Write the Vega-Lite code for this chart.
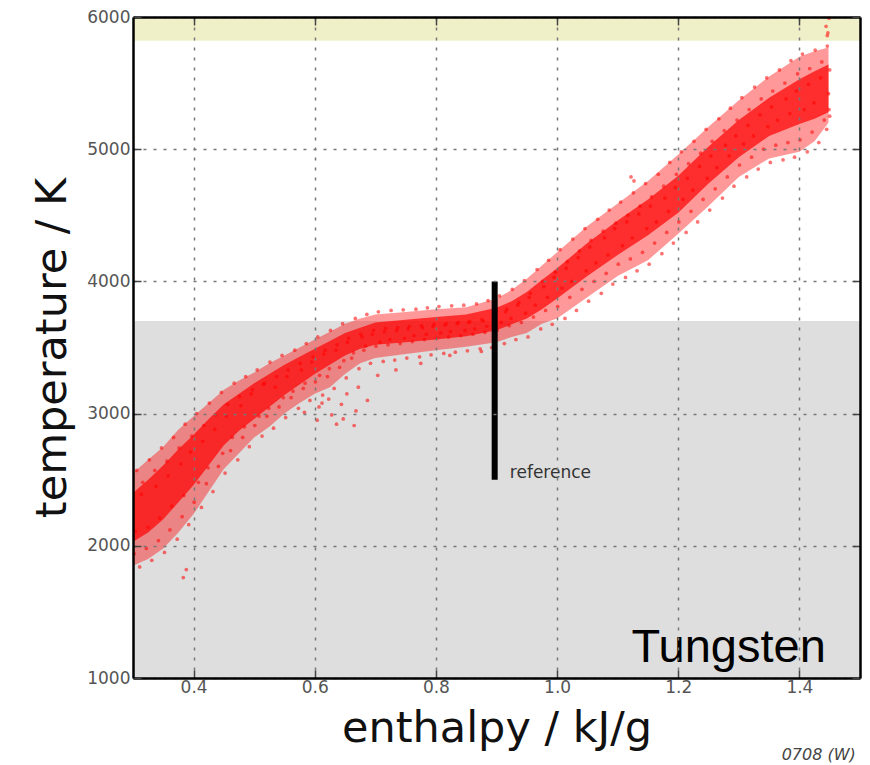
{
  "$schema": "https://vega.github.io/schema/vega-lite/v6.json",
  "width": 727,
  "height": 661,
  "autosize": "none",
  "padding": {"left": 133, "top": 17, "right": 10, "bottom": 87},
  "background": "white",
  "config": {"font": "DejaVu Sans", "view": {"stroke": null}},
  "datasets": {
    "zones": [{"t0": 1000, "t1": 3700, "zone": "solid"}, {"t0": 5820, "t1": 6000, "zone": "gas"}],
    "band": [
      {"h": 0.300, "olo": 1850, "ohi": 2550, "clo": 2030, "chi": 2400},
      {"h": 0.325, "olo": 1900, "ohi": 2650, "clo": 2100, "chi": 2500},
      {"h": 0.350, "olo": 1980, "ohi": 2750, "clo": 2200, "chi": 2610},
      {"h": 0.375, "olo": 2100, "ohi": 2880, "clo": 2330, "chi": 2730},
      {"h": 0.400, "olo": 2240, "ohi": 2980, "clo": 2460, "chi": 2840},
      {"h": 0.425, "olo": 2410, "ohi": 3080, "clo": 2610, "chi": 2960},
      {"h": 0.450, "olo": 2580, "ohi": 3180, "clo": 2760, "chi": 3070},
      {"h": 0.475, "olo": 2700, "ohi": 3250, "clo": 2870, "chi": 3150},
      {"h": 0.500, "olo": 2820, "ohi": 3310, "clo": 2960, "chi": 3230},
      {"h": 0.525, "olo": 2900, "ohi": 3380, "clo": 3050, "chi": 3300},
      {"h": 0.550, "olo": 3000, "ohi": 3440, "clo": 3140, "chi": 3370},
      {"h": 0.575, "olo": 3080, "ohi": 3500, "clo": 3220, "chi": 3430},
      {"h": 0.600, "olo": 3150, "ohi": 3560, "clo": 3300, "chi": 3490},
      {"h": 0.625, "olo": 3200, "ohi": 3620, "clo": 3370, "chi": 3550},
      {"h": 0.650, "olo": 3300, "ohi": 3680, "clo": 3440, "chi": 3610},
      {"h": 0.675, "olo": 3380, "ohi": 3720, "clo": 3490, "chi": 3650},
      {"h": 0.700, "olo": 3420, "ohi": 3750, "clo": 3520, "chi": 3690},
      {"h": 0.750, "olo": 3450, "ohi": 3768, "clo": 3540, "chi": 3710},
      {"h": 0.800, "olo": 3480, "ohi": 3790, "clo": 3560, "chi": 3730},
      {"h": 0.850, "olo": 3505, "ohi": 3805, "clo": 3585, "chi": 3750},
      {"h": 0.900, "olo": 3540, "ohi": 3870, "clo": 3630, "chi": 3800},
      {"h": 0.925, "olo": 3580, "ohi": 3935, "clo": 3675, "chi": 3850},
      {"h": 0.950, "olo": 3610, "ohi": 4020, "clo": 3720, "chi": 3920},
      {"h": 0.975, "olo": 3680, "ohi": 4120, "clo": 3790, "chi": 4010},
      {"h": 1.000, "olo": 3720, "ohi": 4220, "clo": 3870, "chi": 4100},
      {"h": 1.050, "olo": 3880, "ohi": 4420, "clo": 4040, "chi": 4290},
      {"h": 1.100, "olo": 4040, "ohi": 4590, "clo": 4200, "chi": 4460},
      {"h": 1.150, "olo": 4160, "ohi": 4760, "clo": 4350, "chi": 4620},
      {"h": 1.200, "olo": 4360, "ohi": 4960, "clo": 4520, "chi": 4800},
      {"h": 1.250, "olo": 4570, "ohi": 5170, "clo": 4740, "chi": 5020},
      {"h": 1.300, "olo": 4790, "ohi": 5370, "clo": 4940, "chi": 5220},
      {"h": 1.350, "olo": 4930, "ohi": 5550, "clo": 5100, "chi": 5390},
      {"h": 1.400, "olo": 4980, "ohi": 5700, "clo": 5190, "chi": 5530},
      {"h": 1.425, "olo": 5060, "ohi": 5740, "clo": 5230, "chi": 5590},
      {"h": 1.448, "olo": 5200, "ohi": 5770, "clo": 5280, "chi": 5640}
    ],
    "pts": [
      {"h":0.302,"t":1940},{"h":0.306,"t":2570},{"h":0.304,"t":2110},
      {"h":0.311,"t":1840},{"h":0.316,"t":2480},{"h":0.314,"t":2390},
      {"h":0.322,"t":1980},{"h":0.327,"t":2650},{"h":0.325,"t":2140},
      {"h":0.331,"t":1890},{"h":0.336,"t":2570},{"h":0.338,"t":2450},
      {"h":0.342,"t":2040},{"h":0.347,"t":2740},{"h":0.344,"t":2210},
      {"h":0.352,"t":1950},{"h":0.356,"t":2640},{"h":0.358,"t":2530},
      {"h":0.361,"t":2120},{"h":0.367,"t":2820},{"h":0.364,"t":2300},
      {"h":0.373,"t":2050},{"h":0.376,"t":2740},{"h":0.379,"t":2620},
      {"h":0.381,"t":2220},{"h":0.386,"t":2920},{"h":0.384,"t":2380},{"h":0.383,"t":1760},{"h":0.388,"t":1820},
      {"h":0.392,"t":2160},{"h":0.397,"t":2830},{"h":0.395,"t":2710},
      {"h":0.401,"t":2330},{"h":0.405,"t":3000},{"h":0.408,"t":2480},
      {"h":0.413,"t":2290},{"h":0.417,"t":2910},{"h":0.415,"t":2790},
      {"h":0.421,"t":2470},{"h":0.426,"t":3080},{"h":0.424,"t":2590},
      {"h":0.432,"t":2410},{"h":0.437,"t":2990},{"h":0.435,"t":2880},
      {"h":0.441,"t":2600},{"h":0.446,"t":3160},{"h":0.448,"t":2700},
      {"h":0.452,"t":2550},{"h":0.456,"t":3070},{"h":0.454,"t":2980},
      {"h":0.461,"t":2720},{"h":0.467,"t":3230},{"h":0.464,"t":2820},
      {"h":0.473,"t":2650},{"h":0.476,"t":3130},{"h":0.478,"t":3060},
      {"h":0.481,"t":2820},{"h":0.486,"t":3280},{"h":0.484,"t":2900},
      {"h":0.492,"t":2750},{"h":0.497,"t":3180},{"h":0.495,"t":3150},
      {"h":0.501,"t":2910},{"h":0.505,"t":3330},{"h":0.508,"t":2980},
      {"h":0.513,"t":2830},{"h":0.517,"t":3230},{"h":0.515,"t":3220},
      {"h":0.521,"t":2980},{"h":0.526,"t":3390},{"h":0.524,"t":3040},
      {"h":0.532,"t":2890},{"h":0.537,"t":3280},{"h":0.535,"t":3200},
      {"h":0.541,"t":3050},{"h":0.546,"t":3440},{"h":0.548,"t":3120},
      {"h":0.552,"t":2970},{"h":0.556,"t":3330},{"h":0.554,"t":3280},
      {"h":0.561,"t":3120},{"h":0.567,"t":3480},{"h":0.564,"t":3170},
      {"h":0.573,"t":3040},{"h":0.576,"t":3380},{"h":0.578,"t":3330},
      {"h":0.581,"t":3190},{"h":0.586,"t":3530},{"h":0.584,"t":3230},{"h":0.583,"t":3010},
      {"h":0.592,"t":3100},{"h":0.597,"t":3430},{"h":0.595,"t":3390},
      {"h":0.601,"t":3240},{"h":0.605,"t":3580},{"h":0.608,"t":3290},{"h":0.604,"t":2950},{"h":0.607,"t":3050},
      {"h":0.613,"t":3140},{"h":0.617,"t":3480},{"h":0.615,"t":3450},{"h":0.612,"t":3080},
      {"h":0.621,"t":3280},{"h":0.626,"t":3630},{"h":0.624,"t":3340},{"h":0.628,"t":2990},{"h":0.623,"t":3110},
      {"h":0.632,"t":3190},{"h":0.637,"t":3520},{"h":0.635,"t":3480},{"h":0.636,"t":2920},
      {"h":0.641,"t":3350},{"h":0.646,"t":3680},{"h":0.648,"t":3400},{"h":0.644,"t":3070},{"h":0.647,"t":2960},
      {"h":0.652,"t":3270},{"h":0.656,"t":3570},{"h":0.654,"t":3540},{"h":0.653,"t":3150},
      {"h":0.661,"t":3420},{"h":0.667,"t":3720},{"h":0.664,"t":3460},{"h":0.665,"t":2910},{"h":0.668,"t":3020},
      {"h":0.673,"t":3340},{"h":0.676,"t":3600},{"h":0.678,"t":3580},{"h":0.672,"t":3200},
      {"h":0.681,"t":3480},{"h":0.686,"t":3750},{"h":0.684,"t":3510},{"h":0.687,"t":3100},
      {"h":0.692,"t":3380},{"h":0.697,"t":3630},{"h":0.695,"t":3600},
      {"h":0.701,"t":3510},{"h":0.705,"t":3770},{"h":0.708,"t":3540},{"h":0.704,"t":3290},
      {"h":0.713,"t":3395},{"h":0.717,"t":3645},{"h":0.715,"t":3620},
      {"h":0.721,"t":3520},{"h":0.726,"t":3780},{"h":0.724,"t":3560},
      {"h":0.732,"t":3405},{"h":0.737,"t":3650},{"h":0.735,"t":3630},{"h":0.734,"t":3330},
      {"h":0.741,"t":3530},{"h":0.746,"t":3785},{"h":0.748,"t":3570},
      {"h":0.752,"t":3420},{"h":0.756,"t":3660},{"h":0.754,"t":3640},
      {"h":0.761,"t":3545},{"h":0.767,"t":3790},{"h":0.764,"t":3590},
      {"h":0.773,"t":3430},{"h":0.776,"t":3665},{"h":0.778,"t":3650},{"h":0.775,"t":3380},
      {"h":0.781,"t":3560},{"h":0.786,"t":3800},{"h":0.784,"t":3600},
      {"h":0.792,"t":3445},{"h":0.797,"t":3675},{"h":0.795,"t":3660},
      {"h":0.801,"t":3570},{"h":0.805,"t":3810},{"h":0.808,"t":3610},
      {"h":0.813,"t":3455},{"h":0.817,"t":3680},{"h":0.815,"t":3670},
      {"h":0.821,"t":3580},{"h":0.826,"t":3815},{"h":0.824,"t":3620},{"h":0.823,"t":3440},
      {"h":0.832,"t":3465},{"h":0.837,"t":3690},{"h":0.835,"t":3680},
      {"h":0.841,"t":3590},{"h":0.846,"t":3820},{"h":0.848,"t":3630},
      {"h":0.852,"t":3475},{"h":0.856,"t":3695},{"h":0.854,"t":3690},
      {"h":0.861,"t":3600},{"h":0.867,"t":3830},{"h":0.864,"t":3640},
      {"h":0.873,"t":3490},{"h":0.876,"t":3710},{"h":0.878,"t":3700},{"h":0.875,"t":3470},
      {"h":0.881,"t":3615},{"h":0.886,"t":3855},{"h":0.884,"t":3660},
      {"h":0.892,"t":3500},{"h":0.897,"t":3740},{"h":0.895,"t":3730},
      {"h":0.901,"t":3630},{"h":0.905,"t":3890},{"h":0.908,"t":3690},
      {"h":0.913,"t":3530},{"h":0.917,"t":3790},{"h":0.915,"t":3770},
      {"h":0.921,"t":3665},{"h":0.926,"t":3940},{"h":0.924,"t":3720},
      {"h":0.932,"t":3560},{"h":0.937,"t":3840},{"h":0.935,"t":3820},
      {"h":0.941,"t":3690},{"h":0.946,"t":4005},{"h":0.948,"t":3760},
      {"h":0.952,"t":3580},{"h":0.956,"t":3910},{"h":0.954,"t":3880},
      {"h":0.961,"t":3730},{"h":0.967,"t":4090},{"h":0.964,"t":3820},
      {"h":0.973,"t":3640},{"h":0.976,"t":4000},{"h":0.978,"t":3960},
      {"h":0.981,"t":3780},{"h":0.986,"t":4160},{"h":0.984,"t":3880},
      {"h":0.992,"t":3675},{"h":0.997,"t":4070},{"h":0.995,"t":4030},
      {"h":1.001,"t":3810},{"h":1.005,"t":4240},{"h":1.008,"t":3950},
      {"h":1.013,"t":3720},{"h":1.017,"t":4150},{"h":1.015,"t":4100},
      {"h":1.021,"t":3880},{"h":1.026,"t":4320},{"h":1.024,"t":4000},
      {"h":1.032,"t":3780},{"h":1.037,"t":4230},{"h":1.035,"t":4180},
      {"h":1.041,"t":3940},{"h":1.046,"t":4400},{"h":1.048,"t":4080},
      {"h":1.052,"t":3850},{"h":1.056,"t":4310},{"h":1.054,"t":4260},
      {"h":1.061,"t":4000},{"h":1.067,"t":4470},{"h":1.064,"t":4140},
      {"h":1.073,"t":3910},{"h":1.076,"t":4380},{"h":1.078,"t":4330},
      {"h":1.081,"t":4060},{"h":1.086,"t":4540},{"h":1.084,"t":4200},
      {"h":1.092,"t":3980},{"h":1.097,"t":4440},{"h":1.095,"t":4400},
      {"h":1.101,"t":4130},{"h":1.105,"t":4600},{"h":1.108,"t":4270},
      {"h":1.113,"t":4030},{"h":1.117,"t":4500},{"h":1.115,"t":4450},
      {"h":1.121,"t":4170},{"h":1.126,"t":4670},{"h":1.124,"t":4330},{"h":1.122,"t":4790},{"h":1.127,"t":4760},
      {"h":1.132,"t":4080},{"h":1.137,"t":4570},{"h":1.135,"t":4510},
      {"h":1.141,"t":4220},{"h":1.146,"t":4740},{"h":1.148,"t":4400},
      {"h":1.152,"t":4130},{"h":1.156,"t":4640},{"h":1.154,"t":4570},
      {"h":1.161,"t":4290},{"h":1.167,"t":4810},{"h":1.164,"t":4450},
      {"h":1.173,"t":4210},{"h":1.176,"t":4720},{"h":1.178,"t":4630},
      {"h":1.181,"t":4370},{"h":1.186,"t":4900},{"h":1.184,"t":4530},
      {"h":1.192,"t":4290},{"h":1.197,"t":4810},{"h":1.195,"t":4710},
      {"h":1.201,"t":4450},{"h":1.205,"t":4980},{"h":1.208,"t":4620},
      {"h":1.213,"t":4370},{"h":1.217,"t":4890},{"h":1.215,"t":4780},
      {"h":1.221,"t":4530},{"h":1.226,"t":5060},{"h":1.224,"t":4690},
      {"h":1.232,"t":4450},{"h":1.237,"t":4970},{"h":1.235,"t":4870},
      {"h":1.241,"t":4620},{"h":1.246,"t":5150},{"h":1.248,"t":4780},
      {"h":1.252,"t":4540},{"h":1.256,"t":5060},{"h":1.254,"t":4950},
      {"h":1.261,"t":4700},{"h":1.267,"t":5230},{"h":1.264,"t":4860},
      {"h":1.273,"t":4630},{"h":1.276,"t":5140},{"h":1.278,"t":5030},
      {"h":1.281,"t":4790},{"h":1.286,"t":5310},{"h":1.284,"t":4950},
      {"h":1.292,"t":4720},{"h":1.297,"t":5220},{"h":1.295,"t":5100},
      {"h":1.301,"t":4880},{"h":1.305,"t":5390},{"h":1.308,"t":5040},
      {"h":1.313,"t":4790},{"h":1.317,"t":5300},{"h":1.315,"t":5180},
      {"h":1.321,"t":4940},{"h":1.326,"t":5470},{"h":1.324,"t":5100},
      {"h":1.332,"t":4850},{"h":1.337,"t":5380},{"h":1.335,"t":5260},
      {"h":1.341,"t":5000},{"h":1.346,"t":5540},{"h":1.348,"t":5170},
      {"h":1.352,"t":4900},{"h":1.356,"t":5440},{"h":1.354,"t":5320},
      {"h":1.361,"t":5030},{"h":1.367,"t":5600},{"h":1.364,"t":5220},
      {"h":1.373,"t":4920},{"h":1.376,"t":5500},{"h":1.378,"t":5380},
      {"h":1.381,"t":5050},{"h":1.386,"t":5670},{"h":1.384,"t":5270},
      {"h":1.392,"t":4940},{"h":1.397,"t":5570},{"h":1.395,"t":5440},
      {"h":1.401,"t":5070},{"h":1.405,"t":5720},{"h":1.408,"t":5300},
      {"h":1.413,"t":4980},{"h":1.417,"t":5610},{"h":1.415,"t":5490},
      {"h":1.421,"t":5130},{"h":1.426,"t":5750},{"h":1.424,"t":5350},
      {"h":1.432,"t":5050},{"h":1.437,"t":5660},{"h":1.435,"t":5540},
      {"h":1.441,"t":5220},{"h":1.446,"t":5780},{"h":1.448,"t":5420},
      {"h":1.445,"t":5150},{"h":1.450,"t":5250},
      {"h":1.449,"t":5300},{"h":1.450,"t":5600},{"h":1.447,"t":5880},{"h":1.444,"t":5930},{"h":1.449,"t":5990},{"h":1.446,"t":5860}
    ]
  },
  "layer": [
    {
      "data": {"name": "zones"},
      "mark": {"type": "rect"},
      "encoding": {
        "y": {"field": "t0", "type": "quantitative", "axis": null},
        "y2": {"field": "t1"},
        "color": {"field": "zone", "type": "nominal", "scale": {"domain": ["solid", "gas"], "range": ["#dedede", "#f0f0c8"]}, "legend": null}
      }
    },
    {
      "data": {"name": "band"},
      "mark": {"type": "area", "color": "#ff0000", "opacity": 0.4},
      "encoding": {
        "x": {"field": "h", "type": "quantitative", "scale": {"domain": [0.3, 1.5], "nice": false, "zero": false},
          "axis": {"orient": "bottom", "values": [0.4, 0.6, 0.8, 1.0, 1.2, 1.4], "format": ".1f", "title": "enthalpy / kJ/g",
            "titleFontSize": 43, "titleFontWeight": "normal", "titleColor": "#111", "titlePadding": 12, "titleFont": "DejaVu Sans",
            "labelFontSize": 17, "labelColor": "#555", "labelPadding": 9, "labelFlush": false, "labelOverlap": false,
            "tickSize": -8, "tickColor": "#444", "tickWidth": 1.5,
            "domainColor": "#000", "domainWidth": 2.5,
            "grid": true, "gridColor": "#777", "gridDash": [3, 7], "gridWidth": 1.5, "zindex": 1}},
        "y": {"field": "olo", "type": "quantitative", "scale": {"domain": [1000, 6000], "nice": false, "zero": false},
          "axis": {"orient": "left", "values": [1000, 2000, 3000, 4000, 5000, 6000], "format": "d", "title": "temperature / K",
            "titleFontSize": 43, "titleFontWeight": "normal", "titleColor": "#111", "titlePadding": 12, "titleFont": "DejaVu Sans",
            "labelFontSize": 17, "labelColor": "#555", "labelPadding": 11, "labelFlush": false, "labelOverlap": false,
            "tickSize": -8, "tickColor": "#444", "tickWidth": 1.5,
            "domainColor": "#000", "domainWidth": 2.5,
            "grid": true, "gridColor": "#777", "gridDash": [3, 7], "gridWidth": 1.5, "zindex": 1}},
        "y2": {"field": "ohi"}
      }
    },
    {
      "data": {"name": "band"},
      "mark": {"type": "area", "color": "#ff0000", "opacity": 0.7},
      "encoding": {
        "x": {"field": "h", "type": "quantitative", "axis": null},
        "y": {"field": "clo", "type": "quantitative", "axis": null},
        "y2": {"field": "chi"}
      }
    },
    {
      "data": {"name": "pts"},
      "mark": {"type": "circle", "color": "#ff0000", "size": 14, "opacity": 0.55},
      "encoding": {
        "x": {"field": "h", "type": "quantitative",
          "axis": {"orient": "top", "values": [0.4, 0.6, 0.8, 1.0, 1.2, 1.4], "labels": false, "title": null, "grid": false,
            "tickSize": -8, "tickColor": "#444", "tickWidth": 1.5, "domainColor": "#000", "domainWidth": 2.5, "zindex": 1}},
        "y": {"field": "t", "type": "quantitative",
          "axis": {"orient": "right", "values": [1000, 2000, 3000, 4000, 5000, 6000], "labels": false, "title": null, "grid": false,
            "tickSize": -8, "tickColor": "#444", "tickWidth": 1.5, "domainColor": "#000", "domainWidth": 2.5, "zindex": 1}}
      }
    },
    {
      "data": {"values": [{"h": 0.897, "t0": 2500, "t1": 4000}]},
      "mark": {"type": "rule", "color": "#000", "strokeWidth": 6},
      "encoding": {
        "x": {"field": "h", "type": "quantitative", "axis": null},
        "y": {"field": "t0", "type": "quantitative", "axis": null},
        "y2": {"field": "t1"}
      }
    },
    {
      "data": {"values": [{"h": 0.922, "t": 2550, "label": "reference"}]},
      "mark": {"type": "text", "align": "left", "baseline": "middle", "fontSize": 17, "color": "#333", "font": "DejaVu Sans"},
      "encoding": {
        "x": {"field": "h", "type": "quantitative", "axis": null},
        "y": {"field": "t", "type": "quantitative", "axis": null},
        "text": {"field": "label"}
      }
    },
    {
      "data": {"values": [{"h": 1.4436, "t": 1120, "label": "Tungsten"}]},
      "mark": {"type": "text", "align": "right", "baseline": "alphabetic", "fontSize": 47, "color": "#000", "font": "Liberation Sans"},
      "encoding": {
        "x": {"field": "h", "type": "quantitative", "axis": null},
        "y": {"field": "t", "type": "quantitative", "axis": null},
        "text": {"field": "label"}
      }
    },
    {
      "data": {"values": [{"h": 1.493, "t": 417, "label": "0708 (W)"}]},
      "mark": {"type": "text", "align": "right", "baseline": "middle", "fontSize": 16, "fontStyle": "italic", "color": "#444", "font": "DejaVu Sans"},
      "encoding": {
        "x": {"field": "h", "type": "quantitative", "axis": null},
        "y": {"field": "t", "type": "quantitative", "axis": null},
        "text": {"field": "label"}
      }
    }
  ],
  "resolve": {"axis": {"x": "independent", "y": "independent"}}
}
